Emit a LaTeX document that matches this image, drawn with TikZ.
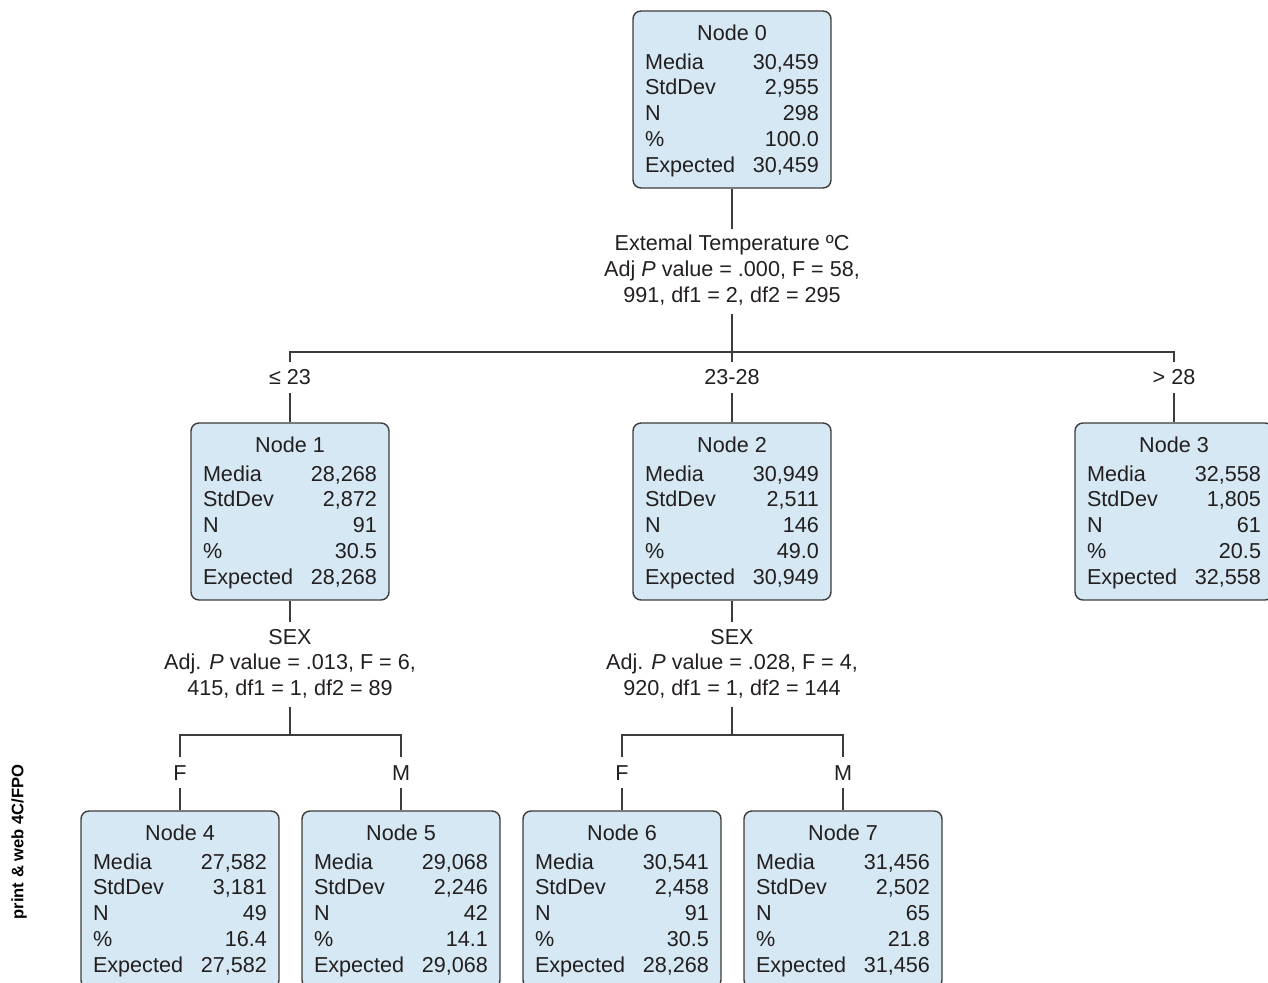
\documentclass[tikz,border=0pt]{standalone}
\usepackage{fontspec}
\setmainfont{Liberation Sans}
\usepackage{array}

\definecolor{boxfill}{HTML}{D5E8F3}
\definecolor{boxline}{HTML}{3C3C3C}
\definecolor{inkgray}{HTML}{231F20}

% one box of the tree: title, then five rows of figures
\newcommand{\statbox}[6]{%
  \begin{tabular*}{87pt}{@{\extracolsep{\fill}}l@{\hspace{4pt}}r@{}}
    \multicolumn{2}{@{}c@{}}{\rule{0pt}{10.5pt}#1}\\[1.65pt]
    Media & #2\\
    StdDev & #3\\
    N & #4\\
    \% & #5\\
    Expected & #6
  \end{tabular*}}
\newcommand{\splittext}[3]{%
  \begin{tabular}[t]{@{}c@{}}#1\\ #2\\ #3\end{tabular}}

\begin{document}
\begin{tikzpicture}[
		x=0.5pt, y=-0.5pt,
		line width=0.7pt, boxline,
		every node/.style={font=\fontsize{10.8pt}{12.85pt}\selectfont, text=inkgray},
		statnode/.style={rectangle, rounded corners=4pt, draw=boxline, fill=boxfill,
			minimum width=99pt, minimum height=88.5pt, inner sep=0pt},
		splitlabel/.style={anchor=base, inner xsep=0pt, inner ysep=1.5pt},
		branchlabel/.style={anchor=base, text height=7.7pt, text depth=0pt,
			inner xsep=0pt, inner ysep=3.5pt}
	]
  \path [use as bounding box, clip] (0,0) rectangle (1268,983);
  % boxes
  \node (n_0) [statnode] at (732, 99.5) {\statbox{Node 0}{30,459}{2,955}{298}{100.0}{30,459}};
  \node (n_1) [statnode] at (290, 511.5) {\statbox{Node 1}{28,268}{2,872}{91}{30.5}{28,268}};
  \node (n_2) [statnode] at (732, 511.5) {\statbox{Node 2}{30,949}{2,511}{146}{49.0}{30,949}};
  \node (n_3) [statnode] at (1174, 511.5) {\statbox{Node 3}{32,558}{1,805}{61}{20.5}{32,558}};
  \node (n_4) [statnode] at (180, 899.5) {\statbox{Node 4}{27,582}{3,181}{49}{16.4}{27,582}};
  \node (n_5) [statnode] at (401, 899.5) {\statbox{Node 5}{29,068}{2,246}{42}{14.1}{29,068}};
  \node (n_6) [statnode] at (622, 899.5) {\statbox{Node 6}{30,541}{2,458}{91}{30.5}{28,268}};
  \node (n_7) [statnode] at (843, 899.5) {\statbox{Node 7}{31,456}{2,502}{65}{21.8}{31,456}};
  % split labels
  \node (lab_0) [splitlabel] at (732, 251) {\splittext{Extemal Temperature ºC}{Adj \textit{P} value = .000, F = 58,}{991, df1 = 2, df2 = 295}};
  \node (lab_1) [splitlabel] at (290, 644) {\splittext{SEX}{Adj. \textit{P} value = .013, F = 6,}{415, df1 = 1, df2 = 89}};
  \node (lab_2) [splitlabel] at (732, 644) {\splittext{SEX}{Adj. \textit{P} value = .028, F = 4,}{920, df1 = 1, df2 = 144}};
  % branch labels
  \node (br_1) [branchlabel] at (290, 385) {≤ 23};
  \node (br_2) [branchlabel] at (732, 385) {23-28};
  \node (br_3) [branchlabel] at (1174, 385) {> 28};
  \node (br_4) [branchlabel] at (180, 780) {F};
  \node (br_5) [branchlabel] at (401, 780) {M};
  \node (br_6) [branchlabel] at (622, 780) {F};
  \node (br_7) [branchlabel] at (843, 780) {M};
  \coordinate (bar_0) at (732, 352);
  \coordinate (bar_1) at (290, 735);
  \coordinate (bar_2) at (732, 735);
  \node (fpo) [rotate=90, text=black, font=\bfseries\fontsize{8.3pt}{10pt}\selectfont] at (19, 842) {print \& web 4C/FPO};
  % connectors
  \draw (n_0) edge (lab_0);
  \draw (lab_0) edge (br_2);
  \draw (br_1) |- (bar_0) -| (br_3);
  \draw (br_1) edge (n_1) (br_2) edge (n_2) (br_3) edge (n_3);
  \draw (n_1) edge (lab_1);
  \draw (n_2) edge (lab_2);
  \draw (lab_1) -- (bar_1);
  \draw (lab_2) -- (bar_2);
  \draw (br_4) |- (bar_1) -| (br_5);
  \draw (br_6) |- (bar_2) -| (br_7);
  \draw (br_4) edge (n_4) (br_5) edge (n_5) (br_6) edge (n_6) (br_7) edge (n_7);
\end{tikzpicture}
\end{document}
